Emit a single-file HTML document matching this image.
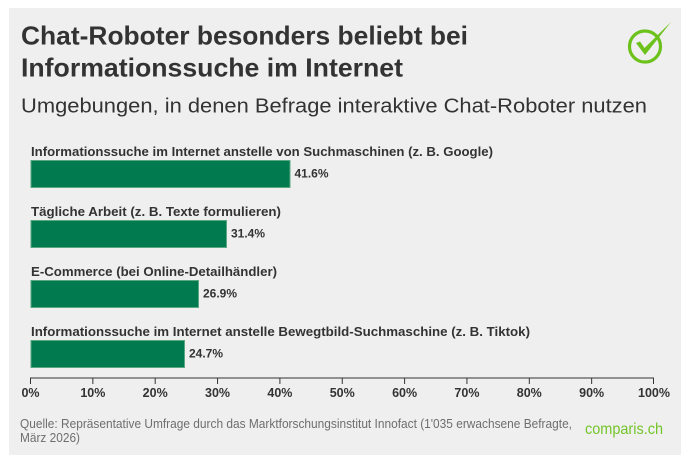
<!DOCTYPE html>
<html><head><meta charset="utf-8"><style>
html,body{margin:0;padding:0;background:#fff;}
svg{display:block;}
text{font-family:"Liberation Sans",sans-serif;}
</style></head><body>
<svg width="689" height="462" viewBox="0 0 689 462" xmlns="http://www.w3.org/2000/svg">
<rect x="0" y="0" width="689" height="462" fill="#ffffff"/>
<rect x="9" y="8" width="672" height="447" fill="#efefef"/>

<text x="21" y="44.5" font-size="26" font-weight="bold" fill="#333" textLength="447" lengthAdjust="spacingAndGlyphs">Chat-Roboter besonders beliebt bei</text>
<text x="21" y="76.7" font-size="26" font-weight="bold" fill="#333" textLength="382" lengthAdjust="spacingAndGlyphs">Informationssuche im Internet</text>
<text x="21" y="112.5" font-size="20" fill="#333" textLength="626" lengthAdjust="spacingAndGlyphs">Umgebungen, in denen Befrage interaktive Chat-Roboter nutzen</text>

<!-- check icon -->
<circle cx="645" cy="46.5" r="15.5" fill="none" stroke="#6cc11b" stroke-width="3.2"/>
<path d="M636 43 L640 41.5 L644.5 48 L671 22 L645 55 Z" fill="#6cc11b"/>

<!-- bars -->
<g font-size="13" font-weight="bold" fill="#333">
<text x="31" y="156" textLength="462" lengthAdjust="spacingAndGlyphs">Informationssuche im Internet anstelle von Suchmaschinen (z. B. Google)</text>
<text x="31" y="216" textLength="250" lengthAdjust="spacingAndGlyphs">Tägliche Arbeit (z. B. Texte formulieren)</text>
<text x="31" y="276" textLength="246" lengthAdjust="spacingAndGlyphs">E-Commerce (bei Online-Detailhändler)</text>
<text x="31" y="336" textLength="499" lengthAdjust="spacingAndGlyphs">Informationssuche im Internet anstelle Bewegtbild-Suchmaschine (z. B. Tiktok)</text>
</g>
<g fill="#027a50" stroke="#5aa882" stroke-width="1">
<rect x="31" y="160.5" width="259" height="27"/>
<rect x="31" y="220.5" width="195.5" height="27"/>
<rect x="31" y="280.5" width="167.5" height="27"/>
<rect x="31" y="340.5" width="153.5" height="27"/>
</g>
<g font-size="11.5" font-weight="bold" fill="#333">
<text x="294.5" y="177.5" textLength="34" lengthAdjust="spacingAndGlyphs">41.6%</text>
<text x="231" y="237.5" textLength="34" lengthAdjust="spacingAndGlyphs">31.4%</text>
<text x="203" y="297.5" textLength="34" lengthAdjust="spacingAndGlyphs">26.9%</text>
<text x="189" y="357.5" textLength="34" lengthAdjust="spacingAndGlyphs">24.7%</text>
</g>

<!-- axis -->
<g stroke="#333" stroke-width="1">
<line x1="30.5" y1="378" x2="654" y2="378"/>
<line x1="30.5" y1="377.5" x2="30.5" y2="384"/>
<line x1="92.85" y1="377.5" x2="92.85" y2="384"/>
<line x1="155.2" y1="377.5" x2="155.2" y2="384"/>
<line x1="217.55" y1="377.5" x2="217.55" y2="384"/>
<line x1="279.9" y1="377.5" x2="279.9" y2="384"/>
<line x1="342.25" y1="377.5" x2="342.25" y2="384"/>
<line x1="404.6" y1="377.5" x2="404.6" y2="384"/>
<line x1="466.95" y1="377.5" x2="466.95" y2="384"/>
<line x1="529.3" y1="377.5" x2="529.3" y2="384"/>
<line x1="591.65" y1="377.5" x2="591.65" y2="384"/>
<line x1="653.5" y1="377.5" x2="653.5" y2="384"/>
</g>
<g font-size="12.5" font-weight="bold" fill="#333" text-anchor="middle">
<text x="30.5" y="397">0%</text>
<text x="92.85" y="397">10%</text>
<text x="155.2" y="397">20%</text>
<text x="217.55" y="397">30%</text>
<text x="279.9" y="397">40%</text>
<text x="342.25" y="397">50%</text>
<text x="404.6" y="397">60%</text>
<text x="466.95" y="397">70%</text>
<text x="529.3" y="397">80%</text>
<text x="591.65" y="397">90%</text>
<text x="654" y="397">100%</text>
</g>

<!-- footer -->
<text x="20" y="428" font-size="12.5" fill="#6e6e6e" textLength="552" lengthAdjust="spacingAndGlyphs">Quelle: Repräsentative Umfrage durch das Marktforschungsinstitut Innofact (1'035 erwachsene Befragte,</text>
<text x="20" y="442" font-size="12.5" fill="#6e6e6e" textLength="60" lengthAdjust="spacingAndGlyphs">März 2026)</text>
<text x="585" y="434" font-size="16" fill="#74c52a" textLength="78" lengthAdjust="spacingAndGlyphs">comparis.ch</text>
</svg>
</body></html>
